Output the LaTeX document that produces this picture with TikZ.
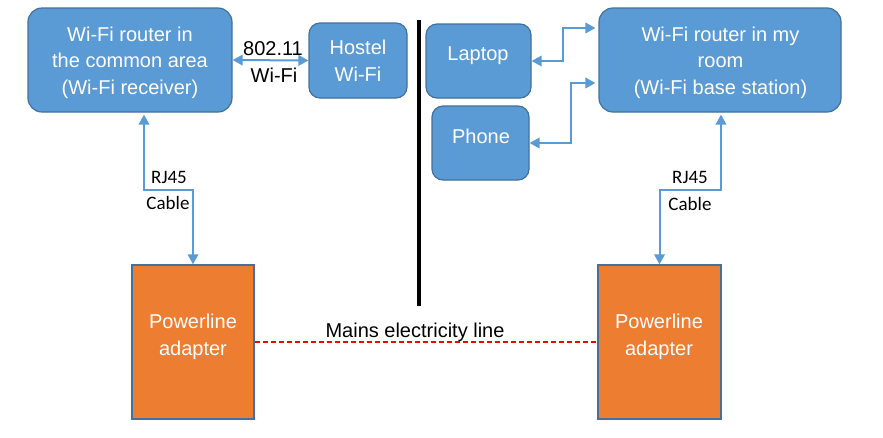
\documentclass[tikz,border=0pt]{standalone}
\usepackage{fontspec}
\setmainfont{Liberation Sans}
\newfontfamily\calfont{Carlito}
\usetikzlibrary{arrows.meta}
\definecolor{boxblue}{HTML}{5B9BD5}
\definecolor{boxedge}{HTML}{41719C}
\definecolor{adorange}{HTML}{ED7D31}
\definecolor{mainsred}{HTML}{FF0000}
\begin{document}
\begin{tikzpicture}[x=1pt,y=-1pt,
  bluebox/.style={draw=boxedge,fill=boxblue,line width=1.2pt,rounded corners=14pt,inner sep=0pt,text=white,align=center,font=\fontsize{20}{26.5}\selectfont},
  smallbox/.style={bluebox,rounded corners=11pt},
  adbox/.style={draw=boxedge,fill=adorange,line width=1.4pt,inner sep=0pt},
  wtxt/.style={text=white,align=center,inner sep=0pt,font=\fontsize{20}{26.5}\selectfont},
  btxt/.style={text=black,align=center,inner sep=0pt,font=\fontsize{20}{26}\selectfont},
  ctxt/.style={text=black,align=center,inner sep=0pt,font=\calfont\fontsize{19}{24}\selectfont},
  conn/.style={draw=boxblue,line width=2pt,arrows={Triangle[length=10pt,width=10.5pt]-Triangle[length=10pt,width=10.5pt]}},
  mains/.style={draw=mainsred,line width=1.1pt,dash pattern=on 5pt off 3pt}]
\useasboundingbox (0,0) rectangle (883,437);

% boxes
\node[bluebox,minimum width=204pt,minimum height=104pt] (lr) at (130,60) {};
\node[smallbox,minimum width=98pt,minimum height=75pt] (hw) at (358,60.5) {Hostel\\Wi-Fi};
\node[smallbox,minimum width=105pt,minimum height=74pt] (lap) at (478.5,61) {};
\node[smallbox,minimum width=97pt,minimum height=74pt] (ph) at (480.5,143) {};
\node[bluebox,minimum width=242pt,minimum height=104pt] (rr) at (720,60) {};
\node[adbox,minimum width=122pt,minimum height=154pt] (la) at (193,342) {};
\node[adbox,minimum width=123pt,minimum height=154pt] (ra) at (659.5,342) {};

% box texts
\node[wtxt] (lrtxt) at (130,62.5) {Wi-Fi router in\\the common area\\(Wi-Fi receiver)};
\node[wtxt] (rrtxt) at (720.5,62.5) {Wi-Fi router in my\\room\\(Wi-Fi base station)};
\node[wtxt] (laptxt) at (478,56) {Laptop};
\node[wtxt] (phtxt) at (481,136) {Phone};
\node[wtxt] (latxt) at (193,337) {Powerline\\adapter};
\node[wtxt] (ratxt) at (659,337) {Powerline\\adapter};

% divider
\coordinate (divtop) at (419,20);
\coordinate (divbot) at (419,306);
\draw[line width=4pt] (divtop) -- (divbot);

% wifi link
\draw[conn] (lr.east) -- (hw.west);
\node[btxt] (l80211) at (273,49) {802.11};
\node[btxt] (lwifi) at (274,75) {Wi-Fi};

% laptop / phone links
\coordinate (lapk) at (563,28);
\coordinate (phk) at (571,83);
\draw[conn,shorten >=3pt] (lap.east) -| (lapk) -- (rr.west |- lapk);
\draw[conn,shorten >=3pt] (ph.east) -| (phk) -- (rr.west |- phk);

% RJ45 cables
\coordinate (lkink) at (144,190);
\coordinate (rkink) at (721,190);
\draw[conn,shorten <=2pt] (lr.south -| lkink) -- (lkink) -| (la.north);
\draw[conn,shorten <=2pt] (rr.south -| rkink) -- (rkink) -| (ra.north);
\node[ctxt] (lrj) at (169,177) {RJ45};
\node[ctxt] (lcab) at (168,203) {Cable};
\node[ctxt] (rrj) at (690,177) {RJ45};
\node[ctxt] (rcab) at (690,204) {Cable};

% mains line
\draw[mains] (la.east) -- (ra.west);
\node[btxt] (mtxt) at (415,332) {Mains electricity line};
\end{tikzpicture}
\end{document}
